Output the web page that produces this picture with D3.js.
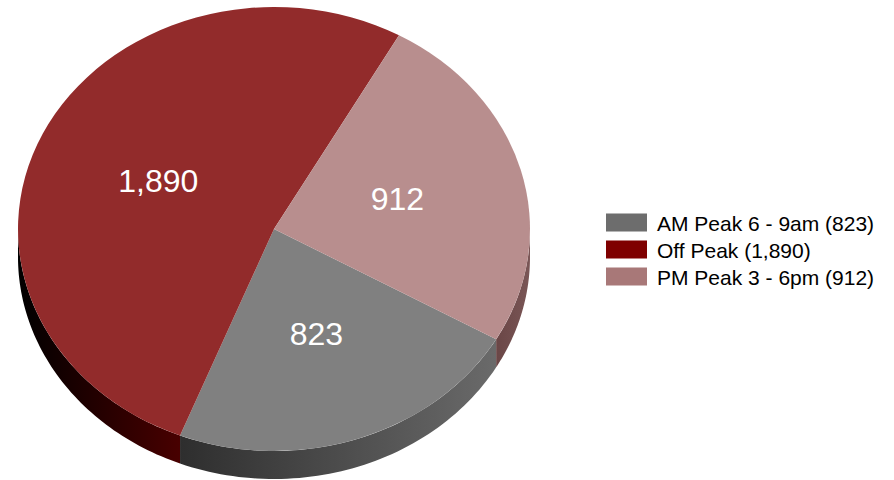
<!DOCTYPE html>
<html>
<head>
<meta charset="utf-8">
<script src="https://cdn.jsdelivr.net/npm/d3@7"></script>
<style>
  body { margin: 0; background: #fff; }
  svg { font-family: "Liberation Sans", Arial, sans-serif; }
</style>
</head>
<body>
<svg id="vis"></svg>
<script>
const plotWidth = 894;
const plotHeight = 480;

// data
const categories = ['AM Peak 6 - 9am', 'Off Peak', 'PM Peak 3 - 6pm'];
const values = [823, 1890, 912];
const labels = ['823', '1,890', '912'];

const topColors = ['#808080', '#922b2b', '#b88e8e'];
const legendColors = ['#6d6d6d', '#7f0000', '#a87878'];
const sideColors = [['#2e2e2e', '#6a6a6a'], ['#000000', '#480000'], ['#6a4646', '#7a5656']];

const svg = d3.select('#vis')
    .attr('width', plotWidth)
    .attr('height', plotHeight);

const cx = 274, cy = 229;
const rx = 256, ry = 222;
const depth = 28;
const startDeg = 119.8;

function main() {
    const pie = d3.pie().sort(null).value(d => d)
        .startAngle(startDeg * Math.PI / 180)
        .endAngle(startDeg * Math.PI / 180 + 2 * Math.PI);
    const arcs = pie(values);

    drawSides(arcs);
    drawTop(arcs);
    drawLegend();
}

function ellipsePt(a, dy) {
    return [cx + rx * Math.sin(a), cy - ry * Math.cos(a) + (dy || 0)];
}

function drawSides(arcs) {
    const defs = svg.append('defs');
    arcs.forEach((d, i) => {
        // visible front part lies between 90 and 270 degrees
        let lo = d.startAngle, hi = d.endAngle;
        const segs = [];
        for (let k = -1; k <= 2; k++) {
            const s = Math.max(lo, Math.PI / 2 + k * 2 * Math.PI);
            const e = Math.min(hi, 3 * Math.PI / 2 + k * 2 * Math.PI);
            if (e > s) segs.push([s, e]);
        }
        segs.forEach((sg, j) => {
            const n = 60;
            const angles = d3.range(n + 1).map(t => sg[0] + (sg[1] - sg[0]) * t / n);
            const pts = angles.map(a => ellipsePt(a, 0))
                .concat(angles.slice().reverse().map(a => ellipsePt(a, depth)));
            const x0 = d3.min(pts, p => p[0]), x1 = d3.max(pts, p => p[0]);
            const id = 'side' + i + '_' + j;
            const g = defs.append('linearGradient').attr('id', id)
                .attr('gradientUnits', 'userSpaceOnUse')
                .attr('x1', x0).attr('x2', x1).attr('y1', 0).attr('y2', 0);
            g.append('stop').attr('offset', 0).attr('stop-color', sideColors[i][0]);
            g.append('stop').attr('offset', 1).attr('stop-color', sideColors[i][1]);
            svg.append('path')
                .attr('d', d3.line()(pts) + 'Z')
                .attr('fill', 'url(#' + id + ')');
        });
    });
}

function drawTop(arcs) {
    const arc = d3.arc().innerRadius(0).outerRadius(rx);
    const g = svg.append('g')
        .attr('transform', `translate(${cx},${cy}) scale(1,${ry / rx})`);
    g.selectAll('path.slice').data(arcs).enter()
        .append('path')
        .attr('class', 'slice')
        .attr('d', arc)
        .attr('fill', (d, i) => topColors[i]);

    // data labels halfway out along each slice
    const labelArc = d3.arc().innerRadius(rx * 0.5).outerRadius(rx * 0.5);
    svg.selectAll('text.val').data(arcs).enter()
        .append('text')
        .attr('class', 'val')
        .attr('x', d => cx + labelArc.centroid(d)[0])
        .attr('y', d => cy + labelArc.centroid(d)[1] * ry / rx)
        .attr('text-anchor', 'middle')
        .attr('dominant-baseline', 'central')
        .attr('font-size', 32)
        .attr('fill', '#fff')
        .text((d, i) => labels[i]);
}

function drawLegend() {
    const y = d3.scaleBand().domain(categories).range([209, 290]);
    const lg = svg.append('g');
    const items = lg.selectAll('g').data(categories).enter().append('g')
        .attr('transform', d => `translate(606,${y(d) + y.bandwidth() / 2})`);
    items.append('rect')
        .attr('x', 0).attr('y', -9)
        .attr('width', 41).attr('height', 18)
        .attr('fill', (d, i) => legendColors[i]);
    items.append('text')
        .attr('x', 51).attr('y', 1)
        .attr('dominant-baseline', 'central')
        .attr('font-size', 21)
        .attr('fill', '#000')
        .text((d, i) => `${d} (${labels[i]})`);
}

main();
</script>
</body>
</html>
